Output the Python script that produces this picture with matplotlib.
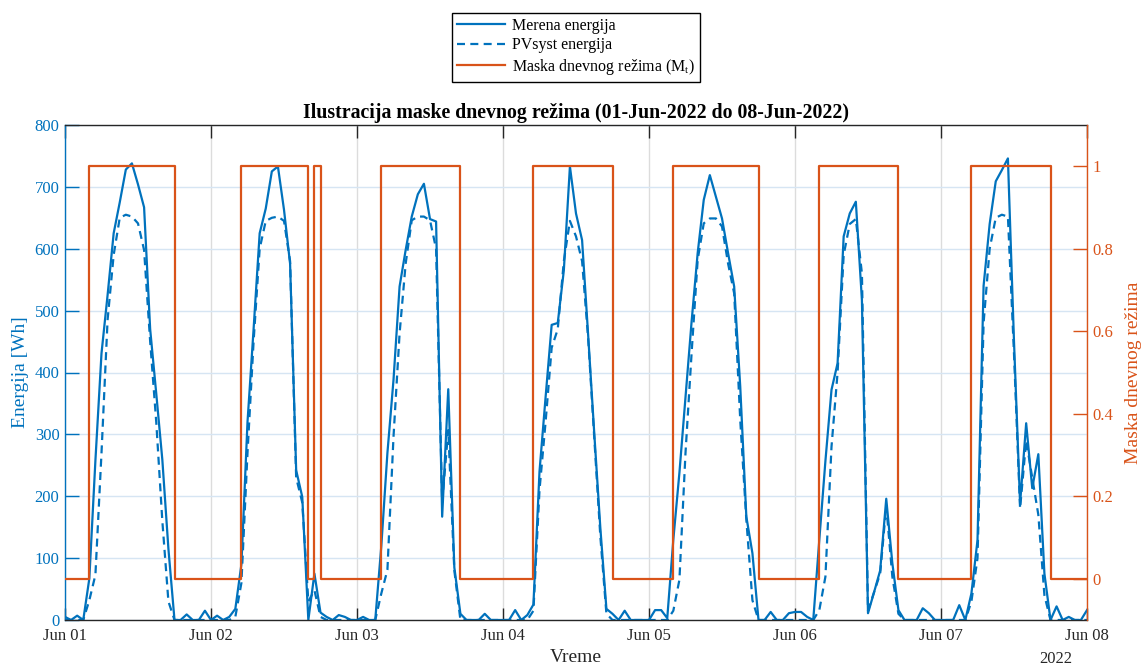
import matplotlib
matplotlib.use("Agg")
import matplotlib.pyplot as plt
import matplotlib.dates as mdates
from matplotlib.ticker import FuncFormatter
import pandas as pd

BLUE = "#0072BD"
ORANGE = "#D95319"
DARK = "#262626"

plt.rcParams["font.family"] = ["Liberation Serif", "DejaVu Serif"]
plt.rcParams["mathtext.fontset"] = "custom"
plt.rcParams["mathtext.rm"] = "Liberation Serif"
plt.rcParams["mathtext.default"] = "regular"

# hourly samples, 01-Jun-2022 00:00 .. 08-Jun-2022 00:00
vreme = pd.date_range("2022-06-01 00:00", "2022-06-08 00:00", freq="h")

# measured energy [Wh], one row per day (h00..h23), last value = Jun 08 00:00
merena = [
    5, 0, 7, 0, 67, 258, 431, 525, 625, 675, 728, 738, 704, 667, 470, 366, 259, 115, 0, 0, 9, 0, 0, 15,
    0, 7, 0, 5, 18, 90, 320, 470, 625, 665, 725, 733, 663, 576, 242, 199, 0, 75, 12, 5, 0, 8, 5, 0,
    0, 5, 0, 0, 120, 270, 388, 539, 598, 652, 688, 705, 648, 644, 167, 373, 85, 10, 0, 0, 0, 10, 0, 0,
    0, 0, 16, 0, 8, 25, 240, 360, 477, 480, 565, 733, 657, 614, 460, 302, 149, 18, 10, 0, 15, 0, 0, 0,
    0, 16, 16, 3, 130, 238, 360, 482, 593, 679, 719, 684, 649, 593, 539, 377, 167, 108, 0, 0, 13, 0, 0, 11,
    13, 13, 5, 0, 130, 257, 372, 415, 620, 657, 676, 517, 11, 45, 80, 196, 92, 16, 0, 0, 0, 19, 11, 0,
    0, 0, 0, 24, 0, 43, 129, 540, 640, 709, 727, 746, 450, 188, 318, 213, 268, 75, 0, 22, 0, 5, 0, 0,
    16,
]

# PVsyst simulated energy [Wh]
pvsyst = [
    0, 0, 0, 0, 32, 73, 270, 485, 590, 650, 655, 652, 641, 598, 450, 320, 160, 30, 0, 0, 0, 0, 0, 0,
    0, 0, 0, 0, 5, 60, 270, 450, 600, 645, 650, 652, 645, 580, 230, 190, 30, 48, 5, 0, 0, 0, 0, 0,
    0, 0, 0, 0, 43, 81, 296, 463, 576, 646, 652, 652, 646, 600, 190, 307, 80, 0, 0, 0, 0, 0, 0, 0,
    0, 0, 0, 0, 0, 15, 210, 320, 440, 470, 580, 645, 620, 580, 455, 296, 135, 10, 0, 0, 0, 0, 0, 0,
    0, 0, 0, 0, 15, 65, 270, 431, 582, 641, 649, 649, 636, 576, 528, 323, 162, 32, 0, 0, 0, 0, 0, 0,
    0, 0, 0, 0, 16, 70, 280, 400, 590, 640, 648, 560, 15, 45, 75, 185, 70, 10, 0, 0, 0, 0, 0, 0,
    0, 0, 0, 0, 0, 30, 100, 480, 600, 650, 655, 652, 430, 180, 290, 230, 170, 40, 0, 0, 0, 0, 0, 0,
    0,
]

# day-mode mask M_t
maska = [
    0, 0, 0, 0, 1, 1, 1, 1, 1, 1, 1, 1, 1, 1, 1, 1, 1, 1, 0, 0, 0, 0, 0, 0,
    0, 0, 0, 0, 0, 1, 1, 1, 1, 1, 1, 1, 1, 1, 1, 1, 0, 1, 0, 0, 0, 0, 0, 0,
    0, 0, 0, 0, 1, 1, 1, 1, 1, 1, 1, 1, 1, 1, 1, 1, 1, 0, 0, 0, 0, 0, 0, 0,
    0, 0, 0, 0, 0, 1, 1, 1, 1, 1, 1, 1, 1, 1, 1, 1, 1, 1, 0, 0, 0, 0, 0, 0,
    0, 0, 0, 0, 1, 1, 1, 1, 1, 1, 1, 1, 1, 1, 1, 1, 1, 1, 0, 0, 0, 0, 0, 0,
    0, 0, 0, 0, 1, 1, 1, 1, 1, 1, 1, 1, 1, 1, 1, 1, 1, 0, 0, 0, 0, 0, 0, 0,
    0, 0, 0, 0, 0, 1, 1, 1, 1, 1, 1, 1, 1, 1, 1, 1, 1, 1, 0, 0, 0, 0, 0, 0,
    0,
]

fig = plt.figure(figsize=(11.42, 6.68), dpi=100)
ax = fig.add_axes([65 / 1142, 48 / 668, 1022 / 1142, 495 / 668])

l1, = ax.plot(vreme, merena, color=BLUE, lw=1.6, label="Merena energija")
l2, = ax.plot(vreme, pvsyst, color=BLUE, lw=1.6, ls="--", dashes=(3.6, 2.4),
              label="PVsyst energija")

ax2 = ax.twinx()
l3, = ax2.step(vreme, maska, where="post", color=ORANGE, lw=1.6,
               label="Maska dnevnog režima (M$_t$)")

# axes limits / ticks
ax.set_xlim(vreme[0], vreme[-1])
ax.set_ylim(0, 800)
ax.set_yticks(range(0, 801, 100))
ax2.set_ylim(-0.1, 1.1)
ax2.set_yticks([0, 0.2, 0.4, 0.6, 0.8, 1.0])
ax2.yaxis.set_major_formatter(FuncFormatter(lambda v, p: f"{v:g}"))

ax.xaxis.set_major_locator(mdates.DayLocator())
ax.xaxis.set_major_formatter(mdates.DateFormatter("%b %d"))

ax.tick_params(axis="x", direction="in", top=True, length=9, width=1,
               colors=DARK, labelsize=12, pad=6)
ax.tick_params(axis="y", direction="in", length=10, width=1,
               colors=BLUE, labelsize=12, pad=4)
ax2.tick_params(axis="y", direction="in", length=10, width=1,
                colors=ORANGE, labelsize=12, pad=4)

# grid: vertical gray, horizontal blue-ish (MATLAB style)
ax.xaxis.grid(True, color="#dcdcdc", lw=1.0)
ax.yaxis.grid(True, color="#d6e5f3", lw=1.0)
ax.set_axisbelow(True)

# spines
for s in ("top", "bottom"):
    ax.spines[s].set_color(DARK)
    ax.spines[s].set_linewidth(1.0)
    ax2.spines[s].set_visible(False)
ax.spines["left"].set_color(BLUE)
ax.spines["left"].set_linewidth(1.0)
ax.spines["right"].set_visible(False)
ax2.spines["left"].set_visible(False)
ax2.spines["right"].set_color(ORANGE)
ax2.spines["right"].set_linewidth(1.0)

# labels
ax.set_xlabel("Vreme", fontsize=14, color=DARK, labelpad=3)
ax.set_ylabel("Energija [Wh]", fontsize=14, color=BLUE, labelpad=4)
ax2.set_ylabel("Maska dnevnog režima", fontsize=14, color=ORANGE, labelpad=8)
ax.set_title("Ilustracija maske dnevnog režima (01-Jun-2022 do 08-Jun-2022)",
             fontsize=14.3, fontweight="bold", color="black", pad=5)
ax.text(0.969, -0.078, "2022", transform=ax.transAxes, ha="center", va="center",
        fontsize=12, color=DARK)

leg = fig.legend([l1, l2, l3], [l1.get_label(), l2.get_label(), l3.get_label()],
                 loc="upper center", bbox_to_anchor=(576 / 1142, 1 - 13 / 668),
                 frameon=True, fancybox=False, edgecolor="black", framealpha=1,
                 fontsize=11.5, handlelength=3.0, handletextpad=0.4,
                 labelspacing=0.22, borderpad=0.3, borderaxespad=0)
leg.get_frame().set_linewidth(1.0)

fig.savefig("out.png", dpi=100)
